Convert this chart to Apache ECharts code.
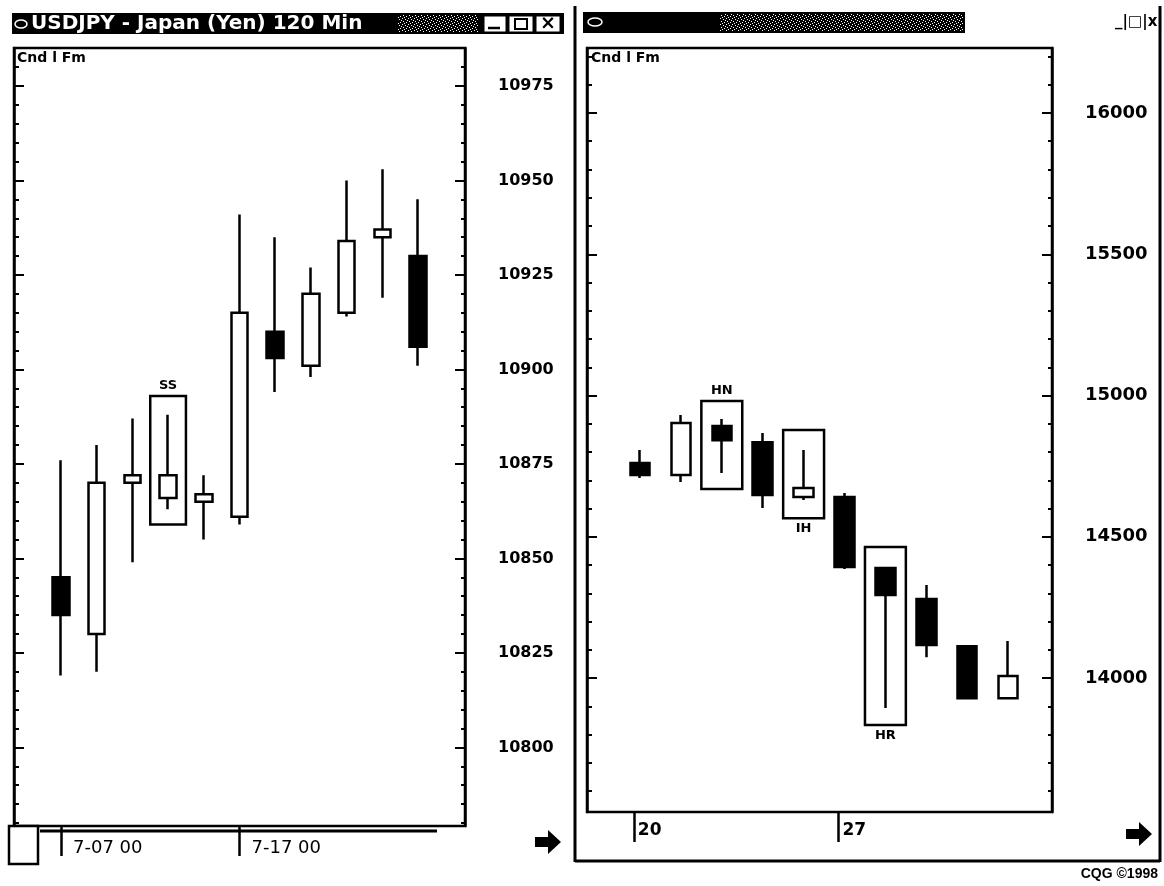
<!DOCTYPE html>
<html>
<head>
<meta charset="utf-8">
<script src="https://cdn.jsdelivr.net/npm/echarts@6/dist/echarts.min.js"></script>
<style>
  html, body { margin: 0; padding: 0; background: #fff; }
  #c { width: 1164px; height: 886px; }
</style>
</head>
<body>
<div id="c"></div>
<script>
// ---- USDJPY, 120-minute bars: [open, close, low, high] (price x 100) ----
const usdjpyBars = [
  [10845, 10835, 10819, 10876],
  [10830, 10870, 10820, 10880],
  [10870, 10872, 10849, 10887],
  [10866, 10872, 10863, 10888],
  [10865, 10867, 10855, 10872],
  [10861, 10915, 10859, 10941],
  [10910, 10903, 10894, 10935],
  [10901, 10920, 10898, 10927],
  [10915, 10934, 10914, 10950],
  [10935, 10937, 10919, 10953],
  [10930, 10906, 10901, 10945]
];
const usdjpyPriceTicks = [10800, 10825, 10850, 10875, 10900, 10925, 10950, 10975];
const usdjpyDateTicks = [0, 5];
const usdjpyDateLabels = ['7-07 00', '7-17 00'];
// pattern boxes: name, bar index, upper and lower price bound
const usdjpyPatternNames = ['SS'];
const usdjpyPatternBars = [3];
const usdjpyPatternTop = [10893];
const usdjpyPatternBottom = [10859];

// ---- Daily bars: [open, close, low, high] ----
const dailyBars = [
  [14761, 14719, 14708, 14807],
  [14719, 14903, 14694, 14931],
  [14892, 14842, 14726, 14917],
  [14835, 14648, 14602, 14867],
  [14641, 14673, 14630, 14807],
  [14641, 14393, 14386, 14655],
  [14390, 14294, 13894, 14390],
  [14280, 14117, 14074, 14329],
  [14113, 13929, 13929, 14113],
  [13929, 14007, 13929, 14131]
];
const dailyPriceTicks = [14000, 14500, 15000, 15500, 16000];
const dailyDateTicks = [-0.15, 4.85];
const dailyDateLabels = ['20', '27'];
const dailyPatternNames = ['HN', 'IH', 'HR'];
const dailyPatternBars = [2, 4, 6];
const dailyPatternTop = [14981, 14878, 14464];
const dailyPatternBottom = [14669, 14566, 13834];

// label sits above the box for top patterns, below for bottom patterns
const labelBelow = { SS: false, HN: false, IH: true, HR: true };

function minorTicks(min, max, step, majorStep) {
  const out = [];
  for (let v = Math.ceil(min / step) * step; v <= max; v += step) {
    if (v % majorStep !== 0) out.push(v);
  }
  return out;
}

const INK = '#000';
const tickLine = { color: INK, width: 2 };

function yAxesFor(gridIndex, min, max, majors, minors, labelSize) {
  const base = { gridIndex, type: 'value', min, max, splitLine: { show: false } };
  return [
    Object.assign({}, base, {
      position: 'right',
      axisLine: { show: true, onZero: false, lineStyle: { color: INK, width: 2.5 } },
      axisTick: { show: true, inside: true, length: 10, customValues: majors, lineStyle: tickLine },
      axisLabel: {
        show: true, customValues: majors, margin: 33, color: INK,
        fontFamily: 'DejaVu Sans', fontWeight: 'bold', fontSize: labelSize,
        formatter: v => String(v)
      }
    }),
    Object.assign({}, base, {
      position: 'right',
      axisLine: { show: false, onZero: false },
      axisTick: { show: true, inside: true, length: 4, customValues: minors, lineStyle: tickLine },
      axisLabel: { show: false }
    }),
    Object.assign({}, base, {
      position: 'left',
      axisLine: { show: true, onZero: false, lineStyle: { color: INK, width: 2.5 } },
      axisTick: { show: true, inside: true, length: 10, customValues: majors, lineStyle: tickLine },
      axisLabel: { show: false }
    }),
    Object.assign({}, base, {
      position: 'left',
      axisLine: { show: false, onZero: false },
      axisTick: { show: true, inside: true, length: 5, customValues: minors, lineStyle: tickLine },
      axisLabel: { show: false }
    })
  ];
}

function dateAxis(gridIndex, min, max, ticks, labels, tickLen, labelMargin, pad, font) {
  return {
    gridIndex, type: 'value', position: 'bottom', min, max,
    splitLine: { show: false },
    axisLine: { show: false, onZero: false },
    axisTick: { show: true, inside: false, length: tickLen, customValues: ticks, lineStyle: { color: INK, width: 2.5 } },
    axisLabel: Object.assign({
      show: true, customValues: ticks, margin: labelMargin, color: INK,
      align: 'left', padding: [0, 0, 0, pad],
      formatter: v => labels[ticks.indexOf(v)]
    }, font)
  };
}

function patternAreas(names, bars, tops, bottoms) {
  return names.map((name, i) => [
    {
      name, xAxis: bars[i] - 0.5, yAxis: tops[i],
      label: { position: labelBelow[name] ? 'bottom' : 'top' }
    },
    { xAxis: bars[i] + 0.5, yAxis: bottoms[i] }
  ]);
}

function candleSeries(bars, xIdx, yIdx, width, areas) {
  return {
    type: 'candlestick',
    xAxisIndex: xIdx, yAxisIndex: yIdx,
    data: bars.map((b, i) => [i, b[0], b[1], b[2], b[3]]),
    barWidth: width,
    silent: true,
    emphasis: { disabled: true },
    itemStyle: { color: '#fff', color0: INK, borderColor: INK, borderColor0: INK, borderWidth: 2.5 },
    markArea: {
      silent: true,
      emphasis: { disabled: true },
      itemStyle: { color: 'rgba(0,0,0,0)', borderColor: INK, borderWidth: 2.5 },
      label: {
        show: true, color: INK, distance: 3,
        fontFamily: 'DejaVu Sans', fontWeight: 'bold', fontSize: 13
      },
      data: areas
    }
  };
}

// dithered fill for the title bars
function ditherPattern() {
  const cv = document.createElement('canvas');
  cv.width = 6; cv.height = 6;
  const g = cv.getContext('2d');
  g.fillStyle = '#000'; g.fillRect(0, 0, 6, 6);
  g.fillStyle = '#fff';
  [[0,0],[3,1],[1,3],[4,4],[2,5],[5,2]].forEach(p => g.fillRect(p[0], p[1], 1, 1));
  return { image: cv, repeat: 'repeat' };
}
const dither = ditherPattern();

function arrow(cx, cy) {
  return {
    type: 'polygon',
    shape: { points: [[cx - 13, cy - 5], [cx, cy - 5], [cx, cy - 12], [cx + 13, cy], [cx, cy + 12], [cx, cy + 5], [cx - 13, cy + 5]] },
    style: { fill: INK }
  };
}
function vline(x, y1, y2, w) {
  return { type: 'line', shape: { x1: x, y1, x2: x, y2 }, style: { stroke: INK, lineWidth: w || 2.5 } };
}
function hline(y, x1, x2, w) {
  return { type: 'line', shape: { x1, y1: y, x2, y2: y }, style: { stroke: INK, lineWidth: w || 2.5 } };
}
function txt(x, y, text, font, fill, align) {
  return {
    type: 'text', x, y,
    style: { text, font, fill: fill || INK, align: align || 'left', verticalAlign: 'middle' }
  };
}

const chrome = [
  // left window title bar
  { type: 'rect', shape: { x: 12, y: 13, width: 552, height: 21 }, style: { fill: INK } },
  { type: 'rect', shape: { x: 398, y: 15, width: 80, height: 17 }, style: { fill: dither } },
  { type: 'ellipse', shape: { cx: 21, cy: 24, rx: 6, ry: 4 }, style: { fill: 'none', stroke: '#fff', lineWidth: 1.5 } },
  txt(31, 24, 'USDJPY - Japan (Yen) 120 Min', 'bold 20px "DejaVu Sans"', '#fff'),
  { type: 'rect', shape: { x: 484, y: 16, width: 22, height: 16 }, style: { fill: '#fff', stroke: INK, lineWidth: 1 } },
  { type: 'rect', shape: { x: 509, y: 16, width: 24, height: 16 }, style: { fill: '#fff', stroke: INK, lineWidth: 1 } },
  { type: 'rect', shape: { x: 536, y: 16, width: 24, height: 16 }, style: { fill: '#fff', stroke: INK, lineWidth: 1 } },
  hline(28, 488, 500, 2.5),
  { type: 'rect', shape: { x: 515, y: 19, width: 12, height: 10 }, style: { fill: 'none', stroke: INK, lineWidth: 2 } },
  txt(548, 24, '×', 'bold 19px "DejaVu Sans"', INK, 'center'),

  // right window title bar
  { type: 'rect', shape: { x: 583, y: 12, width: 382, height: 21 }, style: { fill: INK } },
  { type: 'rect', shape: { x: 720, y: 14, width: 243, height: 17 }, style: { fill: dither } },
  { type: 'ellipse', shape: { cx: 595, cy: 22, rx: 7, ry: 4 }, style: { fill: 'none', stroke: '#fff', lineWidth: 1.5 } },
  txt(1139, 22, '_|□|x|', 'bold 15px "DejaVu Sans"', INK, 'center'),

  // window frames
  vline(575, 6, 862, 3),
  vline(1160, 6, 862, 3),
  hline(861, 575, 1160, 3),

  // panel captions
  txt(17, 58, 'Cnd l Fm', 'bold 14px "DejaVu Sans"'),
  txt(591, 58, 'Cnd l Fm', 'bold 14px "DejaVu Sans"'),

  // left bottom strip: scroll box and slider track
  { type: 'rect', shape: { x: 9, y: 826, width: 29, height: 38 }, style: { fill: '#fff', stroke: INK, lineWidth: 2.5 } },
  hline(831, 40, 437, 3),

  // scroll arrows
  arrow(548, 842),
  arrow(1139, 834),

  txt(1158, 874, 'CQG ©1998', 'bold 14px "Liberation Sans Narrow", "Liberation Sans"', INK, 'right')
];

const option = {
  animation: false,
  backgroundColor: '#fff',
  grid: [
    { left: 14, top: 48, width: 451, height: 778, show: true, borderColor: INK, borderWidth: 2.5, backgroundColor: 'rgba(0,0,0,0)' },
    { left: 587, top: 48, width: 465, height: 764, show: true, borderColor: INK, borderWidth: 2.5, backgroundColor: 'rgba(0,0,0,0)' }
  ],
  xAxis: [
    dateAxis(0, -1.316, 11.316, usdjpyDateTicks, usdjpyDateLabels, 30, 13, 12,
      { fontFamily: 'DejaVu Sans', fontSize: 18 }),
    dateAxis(1, -1.296, 10.073, dailyDateTicks, dailyDateLabels, 30, 10, 4,
      { fontFamily: 'DejaVu Sans', fontWeight: 'bold', fontSize: 17 })
  ],
  yAxis: [].concat(
    yAxesFor(0, 10779.2, 10985.05, usdjpyPriceTicks, minorTicks(10779.2, 10985.05, 5, 25), 16),
    yAxesFor(1, 13526, 16230, dailyPriceTicks, minorTicks(13526, 16230, 100, 500), 18)
  ),
  series: [
    candleSeries(usdjpyBars, 0, 0, 17,
      patternAreas(usdjpyPatternNames, usdjpyPatternBars, usdjpyPatternTop, usdjpyPatternBottom)),
    candleSeries(dailyBars, 1, 4, 20,
      patternAreas(dailyPatternNames, dailyPatternBars, dailyPatternTop, dailyPatternBottom))
  ],
  graphic: chrome
};

const chart = echarts.init(document.getElementById('c'));
chart.setOption(option);
</script>
</body>
</html>
